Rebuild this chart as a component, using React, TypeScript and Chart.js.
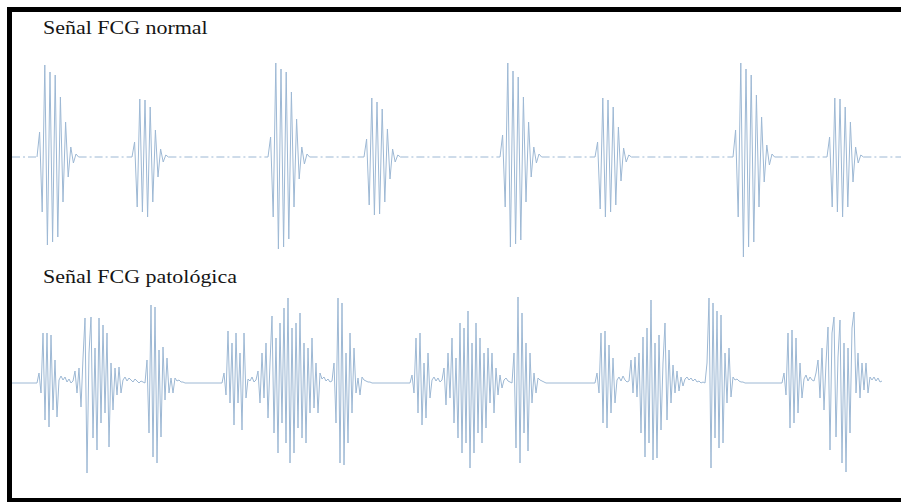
import React, { useEffect, useRef } from "react";
import { Chart, registerables } from "chart.js";

Chart.register(...registerables);

// Time between successive samples (s) for each recording, and visible time window
const NORMAL_STEP = 0.013;
const PATH_STEP = 0.01;
const T_END = 4.445;

const LINE_COLOR = "#9db8d4";

// ---------- Normal PCG ----------
// Onset times (s) of the first (S1) and second (S2) heart sounds
const normalS1Onsets = [0.125, 1.28, 2.44, 3.605];
const normalS2Onsets = [0.6, 1.76, 2.915, 4.075];

// Sample values (normalised amplitude) of each heart sound
const s1Beat1 = [0.25, -0.55, 0.92, -0.88, 0.85, -0.85, 0.82, -0.8, 0.6, -0.45, 0.35, -0.2, 0.1, -0.06, 0.03, 0];
const s1Beat2 = [0.2, -0.6, 0.94, -0.92, 0.88, -0.9, 0.85, -0.82, 0.65, -0.5, 0.38, -0.22, 0.1, -0.07, 0.03, 0];
const s1Beat3 = [0.22, -0.5, 0.94, -0.9, 0.86, -0.87, 0.8, -0.83, 0.6, -0.45, 0.35, -0.2, 0.1, -0.06, 0.03, 0];
const s1Beat4 = [0.27, -0.6, 0.94, -1.0, 0.88, -0.9, 0.82, -0.85, 0.62, -0.5, 0.4, -0.25, 0.12, -0.08, 0.03, 0];

const s2Beat1 = [0.15, -0.5, 0.58, -0.55, 0.57, -0.6, 0.5, -0.45, 0.27, -0.2, 0.08, -0.05, 0.02, 0];
const s2Beat2 = [0.18, -0.48, 0.59, -0.58, 0.55, -0.57, 0.48, -0.45, 0.28, -0.22, 0.08, -0.05, 0.02, 0];
const s2Beat3 = [0.15, -0.52, 0.59, -0.6, 0.57, -0.55, 0.5, -0.48, 0.3, -0.24, 0.09, -0.05, 0.02, 0];
const s2Beat4 = [0.2, -0.5, 0.59, -0.55, 0.58, -0.6, 0.5, -0.5, 0.35, -0.25, 0.1, -0.06, 0.02, 0];

// ---------- Pathological PCG ----------
// Onset time (s) of each cardiac cycle
const pathOnsets = [0.125, 1.05, 1.99, 2.915, 3.85];

// Each cycle: S1, murmur, S2 and the small oscillations between them
const pathCycle1 = [
  0.1, -0.1, 0.5, -0.37, 0.5, -0.44, 0.48, -0.27, 0.23, -0.34,
  0.03, 0.07, 0.03, 0.06, 0.01, 0.04, 0.0, 0.02,
  0.12, -0.1, 0.15, -0.24, 0.25, 0.65, -0.9, 0.3, 0.66, -0.55, 0.35, -0.67, 0.65, -0.4, 0.58, -0.3, 0.5, -0.64, 0.2, -0.27, 0.15, -0.12, 0.16, -0.1,
  0.03, 0.06, 0.02, 0.05, 0.03, 0.01, 0.04, 0.02, 0.0, 0.02, 0.01, 0.0,
  0.23, -0.5, 0.78, -0.74, 0.76, -0.8, 0.33, -0.54, 0.36, -0.17, 0.25, -0.1, 0.05,
  -0.1, 0.05, 0.02, 0.03, 0.01, 0.01, 0,
];
const pathCycle2 = [
  0.1, -0.12, 0.52, -0.2, 0.4, -0.42, 0.5, -0.2, 0.3, -0.47, 0.5, -0.15,
  0.04, 0.02, 0.06, 0.01, 0.03,
  0.12, -0.2, 0.3, -0.15, 0.4, -0.35, 0.2, 0.67, -0.5, 0.45, -0.7, 0.6, -0.4, 0.75, -0.6, 0.85, -0.8, 0.55, -0.7, 0.6, -0.45, 0.7, -0.55, 0.4, -0.6, 0.35, -0.3, 0.45, -0.25, 0.2, -0.3, 0.1,
  0.04, 0.06, 0.02, 0.04, 0.01, 0.02,
  0.2, -0.4, 0.85, -0.8, 0.8, -0.82, 0.3, -0.6, 0.5, -0.3, 0.35, -0.1, 0.05,
  -0.12, 0.06, 0.03, 0.02, 0.01, 0.01, 0,
];
const pathCycle3 = [
  0.08, -0.1, 0.45, -0.3, 0.5, -0.42, 0.2, -0.35, 0.3, -0.15,
  0.03, 0.06, 0.02, 0.05, 0.01, 0.03,
  0.15, -0.22, 0.3, -0.15, 0.45, -0.4, 0.25, -0.55, 0.6, -0.7, 0.55, -0.6, 0.72, -0.85, 0.4, -0.7, 0.6, -0.5, 0.45, -0.6, 0.3, -0.45, 0.35, -0.2, 0.3, -0.3, 0.15, -0.12, 0.08, -0.05,
  0.03, 0.05, 0.02, 0.01, 0.0,
  0.3, -0.65, 0.86, -0.8, 0.7, -0.5, 0.4, -0.68, 0.3, -0.2, 0.1,
  -0.1, 0.05, 0.03, 0.02, 0.01, 0,
];
const pathCycle4 = [
  0.1, -0.1, 0.5, -0.4, 0.52, -0.45, 0.38, -0.3, 0.25, -0.2,
  0.03, 0.06, 0.02, 0.07, 0.03, 0.01, 0.02,
  0.23, -0.1, 0.26, -0.14, 0.3, -0.5, 0.46, -0.74, 0.55, -0.6, 0.83, -0.77, 0.4, -0.75, 0.48, -0.47, 0.2, 0.6, -0.37, 0.33, -0.2, 0.18, -0.1, 0.12, -0.08, 0.06, -0.03,
  0.04, 0.06, 0.03, 0.05, 0.02, 0.04, 0.01, 0.02, 0.0, 0.01, 0,
  0.2, 0.85, -0.85, 0.8, -0.55, 0.72, -0.65, 0.68, -0.6, 0.3, -0.2, 0.35, -0.14,
  0.06, 0.03, 0.04, 0.02, 0.01, 0.01, 0,
];
const pathCycle5 = [
  0.1, -0.12, 0.5, -0.45, 0.53, -0.4, 0.45, -0.3, 0.2, -0.15,
  0.04, 0.08, 0.02, 0.06, 0.03, 0.02,
  0.1, 0.23, -0.15, 0.35, -0.27, 0.2, 0.56, -0.67, 0.5, 0.66, -0.54, 0.26, 0.63, -0.8, 0.4, -0.89, 0.35, -0.5, 0.55, 0.71, -0.1, 0.3, -0.15, 0.2, -0.07, 0.2, -0.1, 0.06,
  0.03, 0.06, 0.02, 0.05, 0.01, 0.02,
];

type Pt = { x: number; y: number };

// Lay sampled segments on the time axis, with a flat baseline between them
function buildTrace(onsets: number[], segments: number[][], step: number, tailToEnd: boolean): Pt[] {
  const order = onsets.map((t, i) => ({ t, seg: segments[i] })).sort((a, b) => a.t - b.t);
  const pts: Pt[] = [{ x: 0, y: 0 }];
  for (const { t, seg } of order) {
    pts.push({ x: t, y: 0 });
    seg.forEach((v, i) => pts.push({ x: t + (i + 1) * step, y: v }));
  }
  if (tailToEnd) pts.push({ x: T_END, y: 0 });
  return pts;
}

const normalTrace = buildTrace(
  [...normalS1Onsets, ...normalS2Onsets],
  [s1Beat1, s1Beat2, s1Beat3, s1Beat4, s2Beat1, s2Beat2, s2Beat3, s2Beat4],
  NORMAL_STEP,
  true
);
const pathTrace = buildTrace(
  pathOnsets,
  [pathCycle1, pathCycle2, pathCycle3, pathCycle4, pathCycle5],
  PATH_STEP,
  false
);

function SignalPlot(props: {
  points: Pt[];
  left: number;
  top: number;
  width: number;
  height: number;
  yRange: number;
  dashedBaseline: boolean;
}) {
  const ref = useRef<HTMLCanvasElement | null>(null);
  useEffect(() => {
    if (!ref.current) return;
    const chart = new Chart(ref.current, {
      type: "line",
      data: {
        datasets: [
          {
            data: props.points,
            borderColor: LINE_COLOR,
            borderWidth: 1,
            pointRadius: 0,
            tension: 0,
            fill: false,
            segment: {
              borderDash: (ctx: any) =>
                props.dashedBaseline &&
                ctx.p0.parsed.y === 0 &&
                ctx.p1.parsed.y === 0 &&
                ctx.p1.parsed.x - ctx.p0.parsed.x > 0.05
                  ? [8, 3, 2, 3]
                  : undefined,
            },
          },
        ],
      },
      options: {
        animation: false,
        responsive: false,
        maintainAspectRatio: false,
        devicePixelRatio: 1,
        events: [],
        layout: { padding: 0 },
        plugins: { legend: { display: false }, tooltip: { enabled: false } },
        scales: {
          x: { type: "linear", display: false, min: 0, max: T_END },
          y: { display: false, min: -props.yRange, max: props.yRange },
        },
      },
    } as any);
    return () => chart.destroy();
  }, []);
  return (
    <canvas
      ref={ref}
      width={props.width}
      height={props.height}
      style={{
        position: "absolute",
        left: props.left,
        top: props.top,
        width: props.width,
        height: props.height,
      }}
    />
  );
}

const labelStyle: React.CSSProperties = {
  position: "absolute",
  left: 43,
  fontFamily: "'Liberation Serif', 'Times New Roman', serif",
  fontSize: 18,
  lineHeight: "18px",
  color: "#151515",
  whiteSpace: "nowrap",
  transform: "scaleX(1.22)",
  transformOrigin: "left top",
};

export default function App() {
  return (
    <div
      style={{
        position: "fixed",
        left: 0,
        top: 0,
        width: 901,
        height: 502,
        overflow: "hidden",
        background: "#ffffff",
      }}
    >
      {/* frame: left, top and bottom edges, open on the right */}
      <svg
        width={901}
        height={502}
        style={{ position: "absolute", left: 0, top: 0 }}
      >
        <path d="M 920 9.5 H 9.5 V 500.5 H 920" fill="none" stroke="#000" strokeWidth={5} />
      </svg>
      <div style={{ ...labelStyle, top: 19 }}>Señal FCG normal</div>
      <div style={{ ...labelStyle, top: 268 }}>Señal FCG patológica</div>
      <SignalPlot points={normalTrace} left={12} top={52} width={889} height={210} yRange={1.05} dashedBaseline />
      <SignalPlot points={pathTrace} left={12} top={283} width={889} height={200} yRange={1} dashedBaseline={false} />
    </div>
  );
}
